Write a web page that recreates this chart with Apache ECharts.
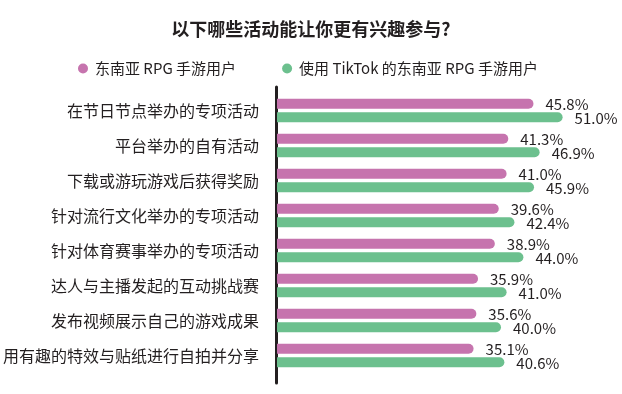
<!DOCTYPE html>
<html>
<head>
<meta charset="utf-8">
<script src="https://cdn.jsdelivr.net/npm/echarts@6/dist/echarts.min.js"></script>
<style>
  html, body { margin: 0; padding: 0; background: #fff; }
  #bar { width: 622px; height: 394px; }
</style>
</head>
<body>
<div id="bar"></div>
<script>
// 数据
const categories = [
  '在节日节点举办的专项活动',
  '平台举办的自有活动',
  '下载或游玩游戏后获得奖励',
  '针对流行文化举办的专项活动',
  '针对体育赛事举办的专项活动',
  '达人与主播发起的互动挑战赛',
  '发布视频展示自己的游戏成果',
  '用有趣的特效与贴纸进行自拍并分享'
]
const seriesNames = ['东南亚 RPG 手游用户', '使用 TikTok 的东南亚 RPG 手游用户']
const rpgUsers = [45.8, 41.3, 41.0, 39.6, 38.9, 35.9, 35.6, 35.1]
const tiktokUsers = [51.0, 46.9, 45.9, 42.4, 44.0, 41.0, 40.0, 40.6]

const font = '"Noto Sans CJK SC", "Noto Sans", sans-serif'
const textColor = '#231f20'
const pink = '#c674ae'
const green = '#6cc08e'

const chart = echarts.init(document.getElementById('bar'))

function barSeries(name, data, color) {
  return {
    name: name,
    type: 'bar',
    data: data,
    barWidth: 10,
    barGap: '35%',
    itemStyle: {
      color: color,
      borderRadius: [0, 5, 5, 0] // 右侧圆角
    },
    label: {
      show: true,
      position: 'right',
      distance: 12,
      offset: [0, 1],
      color: textColor,
      fontSize: 15,
      fontFamily: font,
      formatter: (p) => p.value.toFixed(1) + '%'
    }
  }
}

const option = {
  animation: false,
  title: {
    text: '以下哪些活动能让你更有兴趣参与?',
    left: 'center',
    top: 15,
    textStyle: {
      color: textColor,
      fontSize: 18,
      fontWeight: 'bold',
      fontFamily: font
    }
  },
  legend: {
    data: seriesNames,
    left: 73,
    top: 56,
    icon: 'circle',
    itemWidth: 10,
    itemHeight: 10,
    itemGap: 46,
    textStyle: {
      color: textColor,
      fontSize: 15,
      fontFamily: font,
      padding: [0, 0, 0, 2]
    }
  },
  grid: [
    // 柱状图区域
    { left: 276, top: 93, width: 337, height: 280 },
    // 只用来画左侧竖线（比柱子区域长一点）
    { left: 276, top: 87, width: 337, height: 296 }
  ],
  xAxis: [
    { type: 'value', gridIndex: 0, min: 0, max: 60, show: false },
    { type: 'value', gridIndex: 1, min: 0, max: 1, show: false }
  ],
  yAxis: [
    {
      type: 'category',
      gridIndex: 0,
      data: categories,
      inverse: true,
      axisLine: { show: false },
      axisTick: { show: false },
      axisLabel: {
        color: textColor,
        fontSize: 16,
        fontFamily: font,
        margin: 18
      }
    },
    {
      type: 'value',
      gridIndex: 1,
      min: 0,
      max: 1,
      axisLine: {
        show: true,
        lineStyle: { color: textColor, width: 3 }
      },
      axisTick: { show: false },
      axisLabel: { show: false },
      splitLine: { show: false }
    }
  ],
  series: [
    barSeries(seriesNames[0], rpgUsers, pink),
    barSeries(seriesNames[1], tiktokUsers, green)
  ]
}

chart.setOption(option)
window.addEventListener('resize', () => {
  chart.resize()
})
</script>
</body>
</html>
